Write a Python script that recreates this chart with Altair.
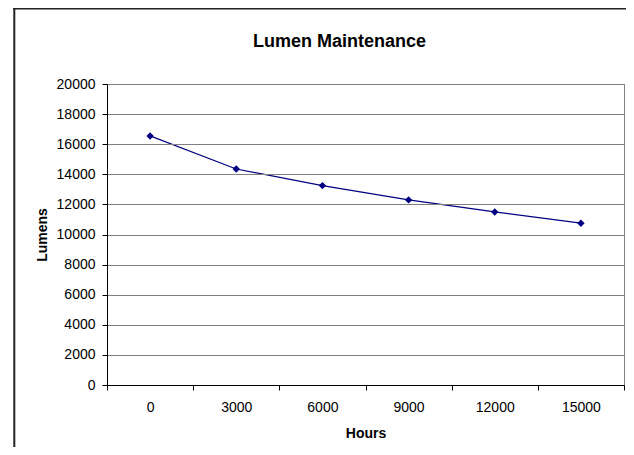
import altair as alt
import pandas as pd

# Data
hours = [0, 3000, 6000, 9000, 12000, 15000]
lumens = [16550, 14350, 13250, 12300, 11500, 10750]
y_ticks = [0, 2000, 4000, 6000, 8000, 10000, 12000, 14000, 16000, 18000, 20000]
x_bounds = [-1500, 1500, 4500, 7500, 10500, 13500, 16500]

df = pd.DataFrame({"Hours": hours, "Lumens": lumens})

FONT = "Liberation Sans"
W, H = 517, 301
step = W / 6.0

x_enc = alt.X(
    "Hours:Q",
    scale=alt.Scale(domain=[x_bounds[0], x_bounds[-1]], nice=False, zero=False),
    axis=alt.Axis(
        values=x_bounds,
        grid=False,
        ticks=True,
        tickSize=5,
        tickColor="black",
        domainColor="black",
        labelExpr="datum.value < 16000 ? format(datum.value + 1500, 'd') : ''",
        labelOffset=step / 2,
        labelFlush=False,
        labelOverlap=False,
        labelBound=False,
        labelPadding=17,
        labelBaseline="middle",
        labelFont=FONT,
        labelFontSize=14,
        labelColor="black",
        title="Hours",
        titleFont=FONT,
        titleFontSize=14,
        titleFontWeight="bold",
        titleColor="black",
        titleX=W / 2,
        titleY=48,
        titleBaseline="middle",
        titleAlign="center",
        zindex=1,
    ),
)

y_enc = alt.Y(
    "Lumens:Q",
    scale=alt.Scale(domain=[0, 20000], nice=False),
    axis=alt.Axis(
        values=y_ticks,
        format="d",
        grid=True,
        gridColor="#808080",
        gridWidth=1,
        ticks=True,
        tickSize=5,
        tickColor="black",
        domainColor="black",
        labelPadding=7,
        labelFont=FONT,
        labelFontSize=14,
        labelColor="black",
        labelFlush=False,
        title="Lumens",
        titleFont=FONT,
        titleFontSize=14,
        titleFontWeight="bold",
        titleColor="black",
        titleAngle=270,
        titleX=-65,
        titleY=H / 2,
        titleBaseline="middle",
        titleAlign="center",
        zindex=1,
    ),
)

base = alt.Chart(df).encode(x=x_enc, y=y_enc)
line = base.mark_line(color="#000080", strokeWidth=1.2)
pts = base.mark_point(shape="diamond", filled=True, color="#000080", size=55, opacity=1)

frame_df = pd.DataFrame({"k": [0]})
left_border = alt.Chart(frame_df).mark_rule(color="#222222", strokeWidth=2).encode(
    x=alt.value(-92.7), y=alt.value(-76), y2=alt.value(H + 70)
)
top_border = alt.Chart(frame_df).mark_rule(color="#222222", strokeWidth=2).encode(
    x=alt.value(-93.7), x2=alt.value(W + 2), y=alt.value(-75.5)
)

chart = (
    alt.layer(line, pts, left_border, top_border)
    .properties(
        width=W,
        height=H,
        title=alt.TitleParams(
            "Lumen Maintenance",
            font=FONT,
            fontSize=18,
            fontWeight="bold",
            color="black",
            anchor="middle",
            baseline="middle",
            dx=-26,
            dy=52.5,
            offset=0,
        ),
        autosize=alt.AutoSizeParams(type="none"),
        padding={"left": 99, "top": 76, "right": 2, "bottom": 62},
        background="white",
    )
    .configure_view(stroke="#808080", strokeWidth=1)
)

chart.save("out.html", embed_options={"renderer": "svg", "actions": False})
